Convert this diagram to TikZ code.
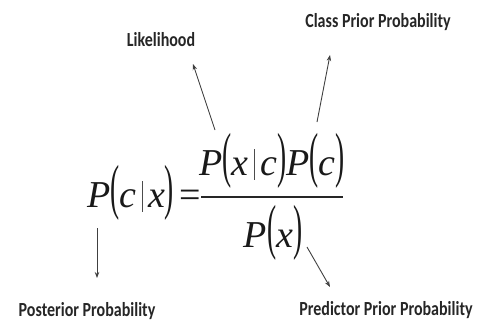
\documentclass[tikz,border=0pt]{standalone}
\usepackage{fontspec}
\usepackage{graphicx}
\usetikzlibrary{arrows.meta}
\setmainfont{Liberation Serif}
\newfontfamily\labfont{Carlito}
\newcommand\tallp[1]{{\upshape\scalebox{0.72}[1.6]{#1}}}
\newcommand\cbar{\hspace{0.14em}\textcolor{black!70}{\rule[-0.12em]{1.1pt}{0.8em}}\hspace{0.14em}}
\newcommand\sq[1]{\scalebox{0.8}[1]{#1}}
\tikzset{
  lab/.style={font=\labfont\bfseries\fontsize{20}{20}\selectfont, text=black!85, inner sep=0pt},
  eqn/.style={font=\fontsize{38}{38}\selectfont\itshape, text=black!90, inner sep=0pt},
  arr/.style={-{Stealth[length=6pt,width=4.5pt]}, draw=black!75, line width=0.9pt}
}
\begin{document}
\begin{tikzpicture}[x=1pt,y=-1pt]
\useasboundingbox (0,0) rectangle (481,327);
% labels
\node[lab] (lik)  at (161,40)  {\sq{Likelihood}};
\node[lab] (cls)  at (378,22)  {\sq{Class Prior Probability}};
\node[lab] (post) at (87,311)  {\sq{Posterior Probability}};
\node[lab] (pred) at (386,310) {\sq{Predictor Prior Probability}};
% equation
\node[eqn, anchor=base west] (lhs) at (87,207) {P\tallp{(}c\cbar x\tallp{)}};
\node[eqn, anchor=base west] (eq)  at (179,207) {\upshape=};
\node[eqn, anchor=base] (num) at (272,175) {P\tallp{(}x\cbar c\tallp{)}P\tallp{(}c\tallp{)}};
\node[eqn, anchor=base] (den) at (273,247) {P\tallp{(}x\tallp{)}};
\coordinate (barL) at (201,197);
\coordinate (barR) at (343,197);
\draw[line width=1.2pt, black!85] (barL) -- (barR);
% arrows
\coordinate (likS) at (215,130);  \coordinate (likT) at (193,64);
\coordinate (clsS) at (317,122);  \coordinate (clsT) at (330,55);
\coordinate (postS) at (97,228);  \coordinate (postT) at (97,278);
\coordinate (predS) at (307,247); \coordinate (predT) at (330,287);
\draw[arr] (likS) -- (likT);
\draw[arr] (clsS) -- (clsT);
\draw[arr] (postS) -- (postT);
\draw[arr] (predS) -- (predT);
\end{tikzpicture}
\end{document}
